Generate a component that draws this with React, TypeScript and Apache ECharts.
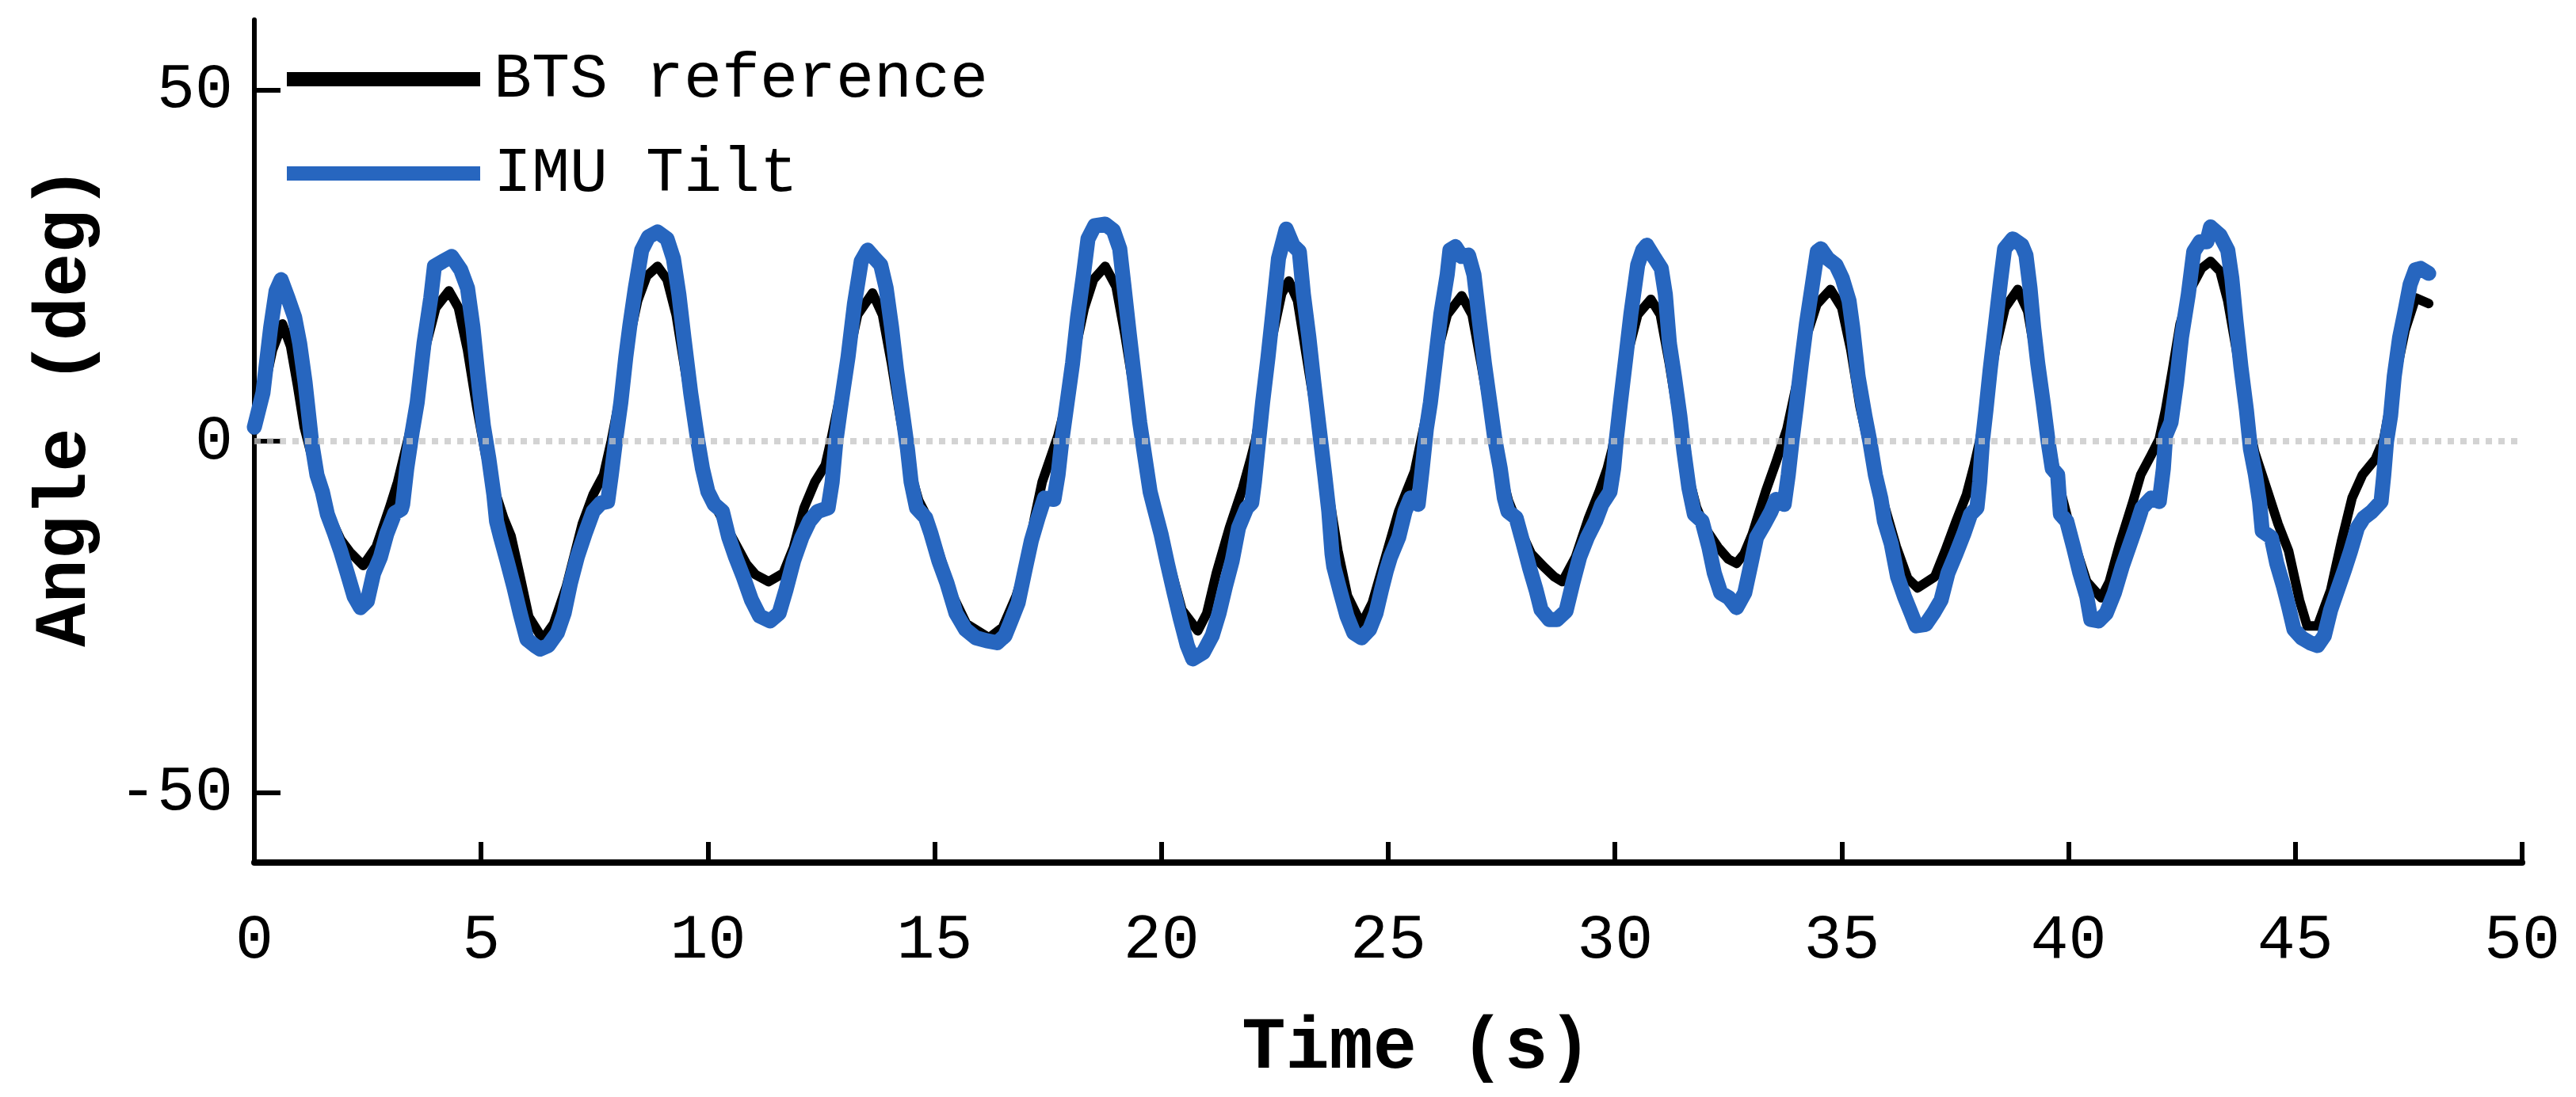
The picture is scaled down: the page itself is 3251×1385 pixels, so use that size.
import React, { useEffect, useRef } from "react";
import * as echarts from "echarts";

const seriesNames = ["BTS reference", "IMU Tilt"];
const yTicks = [-50, 0, 50];

// [time (s), angle (deg)]
const btsReference: number[][] = [
  [0, 1.5], [0.2, 7], [0.4, 13], [0.62, 16.7], [0.8, 13.5], [0.95, 8], [1.1, 2], [1.26, -2], [1.45, -6.5],
  [1.65, -10.5], [1.9, -14], [2.11, -15.8], [2.4, -17.7], [2.69, -15], [2.98, -9.5], [3.16, -5.8], [3.39, 0.3],
  [3.6, 6], [3.8, 14], [4.0, 19], [4.29, 21.4], [4.5, 19], [4.7, 13], [4.9, 5], [5.1, -2], [5.3, -7], [5.5, -11],
  [5.66, -13.5], [5.85, -19], [6.05, -25], [6.36, -28.2], [6.6, -26], [6.88, -20.7], [7.23, -11.8], [7.47, -7.6],
  [7.7, -4.8], [7.87, 0], [8.05, 6], [8.25, 14], [8.45, 20], [8.65, 23.5], [8.89, 24.9], [9.1, 23], [9.3, 18],
  [9.5, 10], [9.7, 2], [9.9, -4], [10.1, -8.5], [10.35, -11.5], [10.6, -14.5], [10.85, -17.5], [11.05, -19],
  [11.34, -20], [11.66, -18.8], [11.89, -15.1], [12.12, -9.5], [12.36, -5.8], [12.59, -3.4], [12.71, 0], [12.9, 6],
  [13.1, 12], [13.3, 18], [13.63, 21.1], [13.85, 18], [14.05, 11], [14.25, 3], [14.45, -4], [14.65, -8.5],
  [14.85, -11], [15.1, -16], [15.4, -22], [15.7, -26], [16.2, -28], [16.5, -26.5], [16.8, -22], [17.02, -17.4],
  [17.2, -11], [17.37, -5.8], [17.6, -1.5], [17.72, 0.8], [17.9, 5.5], [18.1, 13], [18.3, 19], [18.5, 23],
  [18.76, 24.9], [19.0, 22], [19.2, 15], [19.4, 7], [19.6, -1], [19.8, -7.5], [20.0, -12.5], [20.2, -18],
  [20.45, -24], [20.8, -27], [21.0, -24.5], [21.21, -18.8], [21.5, -12.3], [21.79, -6.7], [21.97, -2.5],
  [22.08, 0.3], [22.25, 7], [22.45, 15], [22.65, 21], [22.81, 22.8], [23.0, 20], [23.2, 12], [23.4, 4],
  [23.6, -4], [23.75, -10], [23.89, -15.6], [24.1, -22], [24.41, -26.1], [24.65, -23], [24.94, -16.5],
  [25.23, -10], [25.4, -7.2], [25.58, -4.3], [25.72, 0], [25.9, 5.5], [26.1, 13], [26.3, 18], [26.62, 20.7],
  [26.85, 18], [27.05, 11], [27.25, 3.5], [27.45, -3.5], [27.65, -8.5], [27.9, -12.5], [28.15, -16],
  [28.43, -17.9], [28.66, -19.3], [28.84, -20], [29.13, -16.5], [29.42, -10.9], [29.65, -7.2], [29.83, -3.9],
  [29.94, -1.1], [30.1, 5], [30.3, 13], [30.5, 18], [30.79, 20.2], [31.0, 18], [31.2, 11], [31.4, 3],
  [31.6, -4.5], [31.8, -9.5], [32.0, -12.5], [32.27, -15.1], [32.5, -16.8], [32.68, -17.4], [32.85, -16],
  [33.03, -13.2], [33.32, -7.2], [33.55, -3], [33.79, 1.7], [34.0, 8], [34.2, 14.5], [34.45, 19.5],
  [34.75, 21.6], [35.0, 19], [35.2, 13], [35.4, 5], [35.6, -1], [35.8, -6], [36.0, -10.5], [36.2, -15],
  [36.45, -19.5], [36.67, -20.9], [37.05, -19.3], [37.28, -15.6], [37.52, -11.4], [37.75, -7.6], [37.92, -3.4],
  [38.04, 0], [38.2, 6], [38.4, 13.5], [38.6, 19], [38.88, 21.6], [39.1, 18.5], [39.3, 11], [39.5, 3],
  [39.7, -4], [39.9, -9], [40.1, -14], [40.4, -20], [40.72, -22.3], [40.9, -20], [41.13, -14.6], [41.42, -8.6],
  [41.59, -4.8], [41.82, -2], [42.0, 0.3], [42.14, 4.5], [42.29, 10.1], [42.46, 16.7], [42.7, 21.8],
  [42.93, 24.6], [43.13, 25.6], [43.34, 24.2], [43.51, 20], [43.7, 13], [43.9, 5], [44.1, -1.5], [44.39, -7.2],
  [44.62, -11.8], [44.85, -15.6], [45.09, -22.6], [45.26, -26.3], [45.49, -26.3], [45.78, -21.2], [46.02, -14.2],
  [46.25, -8.1], [46.48, -4.8], [46.77, -2.5], [46.95, 0.3], [47.18, 8.3], [47.42, 15.8], [47.65, 20.4],
  [47.94, 19.6],
];

const imuTilt: number[][] = [
  [0, 2], [0.19, 6.9], [0.36, 16.2], [0.48, 21.4], [0.59, 23], [0.74, 20.4], [0.89, 17.6], [1.0, 13.9],
  [1.12, 8.3], [1.26, 0], [1.38, -4.8], [1.5, -7.2], [1.61, -10.4], [1.76, -13], [1.9, -15.6], [2.05, -18.8],
  [2.2, -22.1], [2.34, -23.7], [2.49, -22.8], [2.63, -18.8], [2.78, -16.5], [2.92, -13.2], [3.1, -10.2],
  [3.24, -9.7], [3.27, -9], [3.36, -3.9], [3.48, 1.3], [3.59, 5.5], [3.74, 13.9], [3.89, 20.4], [3.97, 24.9],
  [4.15, 25.6], [4.35, 26.3], [4.55, 24.4], [4.7, 21.8], [4.82, 16.2], [4.93, 9.2], [5.05, 2.2], [5.17, -2.5],
  [5.28, -7.6], [5.34, -11.4], [5.43, -13.7], [5.57, -17], [5.72, -20.7], [5.86, -24.5], [6.01, -28.2],
  [6.18, -29.1], [6.3, -29.6], [6.48, -29.1], [6.68, -27.3], [6.83, -24.5], [6.97, -20.2], [7.12, -16.5],
  [7.29, -13.2], [7.47, -10], [7.64, -8.8], [7.79, -8.6], [7.87, -4.8], [7.96, -0.1], [8.08, 5.5], [8.19, 12],
  [8.28, 16.5], [8.4, 21.8], [8.54, 27.2], [8.69, 29.1], [8.89, 29.8], [9.1, 28.8], [9.24, 26], [9.36, 20.9],
  [9.47, 14.8], [9.62, 6.9], [9.77, 0.3], [9.88, -3.9], [10.0, -7.2], [10.14, -9], [10.32, -10], [10.46, -13.7],
  [10.61, -16.5], [10.78, -19.3], [10.96, -22.6], [11.14, -24.9], [11.37, -25.6], [11.57, -24.5], [11.72, -21.2],
  [11.89, -17], [12.07, -13.7], [12.24, -11.4], [12.42, -10], [12.65, -9.5], [12.74, -5.8], [12.82, -0.1],
  [12.94, 5.5], [13.09, 12], [13.23, 19.5], [13.38, 25.6], [13.52, 27.2], [13.64, 26.3], [13.81, 25.1],
  [13.93, 21.8], [14.05, 16.2], [14.16, 10.1], [14.28, 4.5], [14.4, -1.1], [14.48, -5.8], [14.6, -9.5],
  [14.8, -10.9], [14.92, -13.2], [15.09, -17], [15.27, -20.2], [15.47, -24.5], [15.68, -26.8], [15.91, -28],
  [16.14, -28.4], [16.38, -28.7], [16.55, -27.7], [16.67, -25.8], [16.84, -23], [16.99, -18.4], [17.13, -14.2],
  [17.28, -10.9], [17.42, -8.1], [17.63, -8.3], [17.72, -4.8], [17.8, -0.1], [17.92, 5.5], [18.04, 11.1],
  [18.15, 17.6], [18.27, 23.2], [18.38, 28.8], [18.53, 30.7], [18.76, 30.9], [18.94, 30], [19.08, 27.4],
  [19.17, 22.3], [19.29, 15.3], [19.4, 9.2], [19.52, 2.7], [19.64, -2.5], [19.75, -7.2], [19.84, -9.5],
  [19.99, -13.2], [20.13, -17.4], [20.28, -21.6], [20.42, -25.4], [20.57, -29.1], [20.69, -31], [20.92, -30.1],
  [21.12, -27.7], [21.27, -24.5], [21.41, -20.7], [21.56, -17], [21.7, -12.3], [21.88, -9.5], [21.99, -8.8],
  [22.05, -5.8], [22.14, -0.1], [22.23, 5.5], [22.35, 12], [22.46, 18.6], [22.58, 26], [22.75, 30.2],
  [22.9, 27.9], [23.04, 27], [23.13, 20.9], [23.25, 14.8], [23.36, 8.3], [23.48, 1.7], [23.6, -4.8],
  [23.69, -10], [23.76, -16], [23.8, -17.9], [23.95, -21.6], [24.09, -24.9], [24.24, -27.3], [24.41, -28],
  [24.59, -26.8], [24.73, -24.5], [24.85, -21.2], [24.96, -18.4], [25.05, -16.5], [25.23, -13.7], [25.37, -10],
  [25.49, -8.1], [25.66, -9], [25.75, -3.9], [25.84, 1.7], [25.93, 5.5], [26.04, 11.5], [26.16, 18.1],
  [26.3, 23.7], [26.36, 27.2], [26.48, 27.7], [26.62, 26.3], [26.77, 26.5], [26.89, 23.7], [27.0, 17.6],
  [27.12, 11.1], [27.24, 5.5], [27.35, 0.3], [27.47, -3.9], [27.56, -8.1], [27.64, -10], [27.82, -10.9],
  [27.96, -14.2], [28.11, -17.9], [28.26, -21.2], [28.37, -24], [28.55, -25.4], [28.72, -25.4], [28.92, -24.2],
  [29.07, -20.2], [29.22, -16.5], [29.39, -13.7], [29.57, -11.4], [29.71, -9], [29.89, -7.2], [29.97, -3.9],
  [30.03, 0.3], [30.12, 5.5], [30.24, 12], [30.35, 18.1], [30.5, 25.1], [30.61, 27.2], [30.7, 27.9],
  [30.88, 26], [31.02, 24.6], [31.11, 20.9], [31.2, 13.9], [31.31, 9.2], [31.43, 3.6], [31.52, -1.5],
  [31.63, -6.7], [31.75, -10.4], [31.92, -11.4], [32.07, -15.1], [32.19, -18.8], [32.33, -21.6], [32.51, -22.3],
  [32.68, -23.7], [32.86, -21.6], [33.0, -17.4], [33.12, -13.7], [33.29, -11.8], [33.44, -10], [33.55, -8.3],
  [33.73, -9], [33.82, -4.8], [33.9, -0.1], [33.99, 4.5], [34.11, 11.1], [34.22, 16.7], [34.34, 21.8],
  [34.46, 27], [34.54, 27.4], [34.69, 26], [34.87, 25.1], [35.01, 23.2], [35.16, 20], [35.24, 16.2],
  [35.36, 9.2], [35.51, 3.6], [35.62, -0.1], [35.74, -4.8], [35.86, -8.1], [35.94, -11.4], [36.09, -14.6],
  [36.23, -19.3], [36.38, -22.1], [36.53, -24.5], [36.64, -26.3], [36.85, -26.1], [37.02, -24.5], [37.19, -22.6],
  [37.34, -18.8], [37.52, -16], [37.69, -13.2], [37.84, -10.4], [37.98, -9.5], [38.04, -5.8], [38.1, -0.1],
  [38.18, 4.5], [38.27, 10.1], [38.39, 16.7], [38.5, 22.8], [38.59, 27.4], [38.77, 28.8], [38.97, 27.9],
  [39.06, 26.5], [39.15, 21.8], [39.23, 16.2], [39.32, 11.1], [39.44, 5.5], [39.55, -0.1], [39.64, -3.9],
  [39.76, -4.8], [39.82, -10.4], [39.96, -11.4], [40.11, -15.1], [40.25, -18.8], [40.4, -22.1], [40.49, -25.4],
  [40.66, -25.6], [40.83, -24.5], [41.01, -21.6], [41.18, -17.9], [41.33, -15.1], [41.48, -12.3], [41.62, -9.5],
  [41.82, -8.1], [42.0, -8.6], [42.09, -3.9], [42.14, 0.8], [42.26, 2.7], [42.38, 8.3], [42.49, 14.8],
  [42.64, 20.9], [42.76, 27], [42.9, 28.4], [43.05, 28.4], [43.13, 30.5], [43.34, 29.3], [43.51, 27.2],
  [43.6, 23.2], [43.69, 17.2], [43.8, 10.6], [43.92, 4.5], [44.01, -1.1], [44.12, -4.8], [44.21, -8.6],
  [44.27, -12.8], [44.47, -13.7], [44.59, -17.4], [44.74, -20.7], [44.85, -23.5], [44.97, -26.8], [45.14, -28],
  [45.32, -28.7], [45.49, -29.1], [45.64, -27.7], [45.78, -24], [45.93, -21.2], [46.08, -18.4], [46.22, -15.6],
  [46.37, -12.3], [46.51, -10.9], [46.69, -10], [46.89, -8.6], [46.95, -4.8], [47.01, -0.1], [47.1, 3.6],
  [47.18, 9.2], [47.3, 14.8], [47.42, 18.6], [47.53, 22.3], [47.65, 24.4], [47.76, 24.6], [47.94, 23.9],
];

const zeroLine: number[][] = [[0, 0], [50, 0]];

const MONO = "'Liberation Mono', 'DejaVu Sans Mono', monospace";
const BLUE = "#2766bf";

export default function App() {
  const ref = useRef<HTMLDivElement>(null);
  useEffect(() => {
    const chart = echarts.init(ref.current!, null, { renderer: "svg" });
    chart.setOption({
      animation: false,
      backgroundColor: "#ffffff",
      grid: { left: 321, right: 68, top: 25, bottom: 296, outerBoundsMode: "none", containLabel: false },
      legend: {
        orient: "vertical",
        left: 357,
        top: 55,
        itemWidth: 244,
        itemHeight: 18,
        itemGap: 39,
        selectedMode: false,
        textStyle: { fontFamily: MONO, fontSize: 80, color: "#000", padding: [0, 0, 0, 12] },
        data: [
          { name: seriesNames[0], icon: "rect", itemHeight: 12, itemStyle: { color: "#000" } },
          { name: seriesNames[1], icon: "rect", itemStyle: { color: BLUE } },
        ],
      },
      xAxis: {
        type: "value",
        min: 0,
        max: 50,
        interval: 5,
        name: "Time (s)",
        nameLocation: "middle",
        nameGap: 188,
        nameTextStyle: { fontFamily: MONO, fontWeight: "bold", fontSize: 92, color: "#000", padding: [0, 0, 0, 72] },
        axisLine: { show: true, onZero: false, lineStyle: { color: "#000", width: 8 } },
        axisTick: { show: true, inside: true, length: 26, lineStyle: { color: "#000", width: 6 } },
        axisLabel: { fontFamily: MONO, fontSize: 80, color: "#000", margin: 58 },
        splitLine: { show: false },
      },
      yAxis: {
        type: "value",
        min: -60,
        max: 60,
        name: "Angle (deg)",
        nameLocation: "middle",
        nameGap: 193,
        nameRotate: 90,
        nameTextStyle: { fontFamily: MONO, fontWeight: "bold", fontSize: 92, color: "#000", padding: [0, 0, 0, 88] },
        axisLine: { show: true, onZero: false, lineStyle: { color: "#000", width: 6 } },
        axisTick: { show: true, inside: true, length: 33, customValues: yTicks, lineStyle: { color: "#000", width: 6 } },
        axisLabel: { customValues: yTicks, fontFamily: MONO, fontSize: 80, color: "#000", margin: 27, padding: [0, 0, 14, 0] },
        splitLine: { show: false },
      },
      series: [
        {
          name: seriesNames[0],
          type: "line",
          data: btsReference,
          symbol: "none",
          showSymbol: false,
          lineStyle: { color: "#000", width: 12, cap: "round", join: "round" },
          itemStyle: { color: "#000" },
          z: 2,
        },
        {
          name: seriesNames[1],
          type: "line",
          data: imuTilt,
          symbol: "none",
          showSymbol: false,
          lineStyle: { color: BLUE, width: 19, cap: "round", join: "round" },
          itemStyle: { color: BLUE },
          z: 3,
        },
        {
          name: "zero",
          type: "line",
          data: zeroLine,
          symbol: "none",
          silent: true,
          lineStyle: { color: "rgba(196,196,196,0.75)", width: 8, type: [8, 8] },
          z: 4,
        },
      ],
    });
    return () => chart.dispose();
  }, []);
  return (
    <div
      ref={ref}
      style={{ position: "fixed", left: 0, top: 0, width: 3251, height: 1385, background: "#fff" }}
    />
  );
}
